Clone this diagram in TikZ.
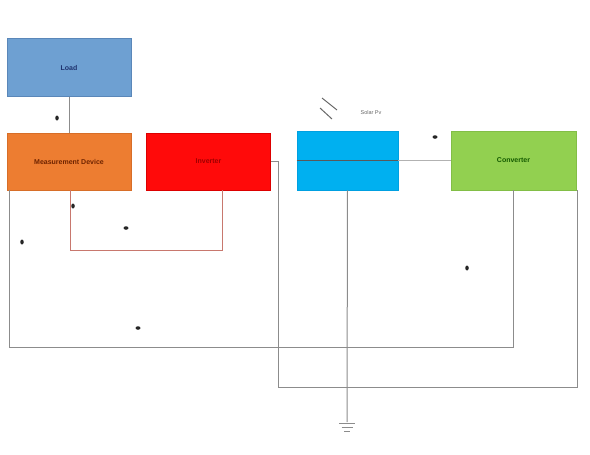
\documentclass[tikz,border=0pt]{standalone}
\usepackage{fontspec}
\setmainfont{Liberation Sans}
\usetikzlibrary{shapes.geometric}
\definecolor{loadD}{RGB}{90,135,185}
\definecolor{loadF}{RGB}{110,160,210}
\definecolor{loadT}{RGB}{30,50,110}
\definecolor{measD}{RGB}{215,110,40}
\definecolor{measF}{RGB}{237,125,49}
\definecolor{measT}{RGB}{110,35,0}
\definecolor{invD}{RGB}{220,0,0}
\definecolor{invF}{RGB}{255,10,10}
\definecolor{invT}{RGB}{160,0,0}
\definecolor{pvD}{RGB}{0,160,225}
\definecolor{pvF}{RGB}{0,176,240}
\definecolor{convD}{RGB}{130,190,70}
\definecolor{convF}{RGB}{146,208,80}
\definecolor{convT}{RGB}{20,90,0}
\definecolor{rw}{RGB}{200,120,110}
\begin{document}
\begin{tikzpicture}[x=1pt,y=-1pt,
  blk/.style={draw=#1,line width=0.8pt,minimum width=124pt,minimum height=58pt,inner sep=0pt,font=\fontsize{7}{8}\selectfont\bfseries},
  wire/.style={draw=black!45,line width=1pt},
  rwire/.style={draw=rw,line width=1pt},
  blob/.style={fill=black!85,ellipse,inner sep=0pt,minimum width=3.5pt,minimum height=5pt},
  hblob/.style={fill=black!85,ellipse,inner sep=0pt,minimum width=5pt,minimum height=3.5pt}]
\useasboundingbox (0,0) rectangle (590,455);
% boxes
\node[blk=loadD,fill=loadF,text=loadT,minimum height=58pt] (load) at (69,67.5) {Load};
\node[blk=measD,fill=measF,text=measT,minimum height=57pt] (meas) at (69,161.5) {Measurement Device};
\node[blk=invD,fill=invF,text=invT,minimum height=57pt] (inv) at (208.5,161.5) {Inverter};
\node[blk=pvD,fill=pvF,minimum width=101pt,minimum height=59pt] (pv) at (347.5,160.5) {};
\node[blk=convD,fill=convF,text=convT,minimum width=125pt,minimum height=59pt] (conv) at (513.5,160.5) {Converter};
% solar label
\node[font=\fontsize{5.5}{6}\selectfont,text=gray!80!black] (solar) at (371,113) {Solar Pv};
\coordinate (r1a) at (322,98); \coordinate (r1b) at (337,110);
\coordinate (r2a) at (320,108); \coordinate (r2b) at (332,119);
\draw[gray!80!black,line width=1pt] (r1a) -- (r1b) (r2a) -- (r2b);
% PV mid line
\draw[black!65,line width=0.9pt] (pv.west) -- (pv.east);
\draw[gray!60,line width=0.6pt] (pv.east) -- (conv.west);
% load to measurement
\draw[wire] (load.south) -- (meas.north);
% measurement to inverter loop
\coordinate (ml1) at (70,250); \coordinate (ml2) at (222,250);
\draw[rwire] (meas.south -| ml1) -- (ml1) -- (ml2) -- (inv.south -| ml2);
% measurement left to converter bottom
\coordinate (b1) at (9,347); \coordinate (b2) at (513,347);
\draw[wire] (meas.south -| b1) -- (b1) -- (b2) -- (conv.south -| b2);
% inverter right to converter right
\coordinate (c1) at (278,161.5); \coordinate (c2) at (278,387); \coordinate (c3) at (577,387);
\draw[wire] (inv.east) -- (c1) -- (c2) -- (c3) -- (conv.south -| c3);
% PV to ground
\coordinate (g) at (347,422);
\draw[wire] (pv.south) -- (g);
\draw[black!45,line width=1pt] (339,423) -- (355,423) (341.5,427) -- (352.5,427) (344,431) -- (350,431);
% blobs
\node[blob] (d1) at (57,118) {};
\node[blob] (d2) at (73,206) {};
\node[blob] (d3) at (22,242) {};
\node[hblob] (d4) at (126,228) {};
\node[hblob] (d5) at (138,328) {};
\node[hblob] (d6) at (435,137) {};
\node[blob] (d7) at (467,268) {};
\end{tikzpicture}
\end{document}
